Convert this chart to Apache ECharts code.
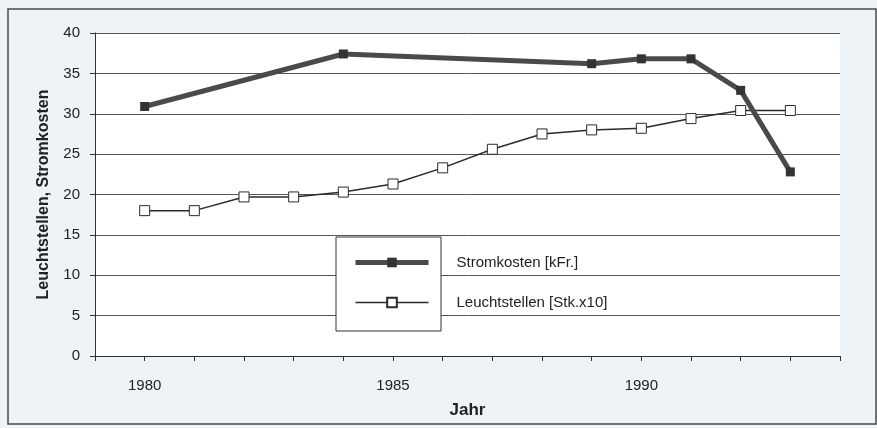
<!DOCTYPE html>
<html>
<head>
<meta charset="utf-8">
<script src="https://cdn.jsdelivr.net/npm/echarts@6/dist/echarts.min.js"></script>
<style>
html,body{margin:0;padding:0;background:#fff;}
#c{width:877px;height:428px;}
</style>
</head>
<body>
<div id="c"></div>
<script>
const years = [1980,1981,1982,1983,1984,1985,1986,1987,1988,1989,1990,1991,1992,1993];
const stromYears = [1980,1984,1989,1990,1991,1992,1993];
const stromkosten = [30.9,37.4,36.2,36.8,36.8,32.9,22.8];
const leuchtstellen = [18.0,18.0,19.7,19.7,20.3,21.3,23.3,25.6,27.5,28.0,28.2,29.4,30.4,30.4];
const xLabels = [1980,1985,1990];
const seriesNames = ['Stromkosten [kFr.]','Leuchtstellen [Stk.x10]'];

const chart = echarts.init(document.getElementById('c'), null, {renderer:'canvas'});
const font = 'Liberation Sans, Arial, Helvetica, sans-serif';
chart.setOption({
  backgroundColor:'#eef3f8',
  animation:false,
  textStyle:{fontFamily:font},
  grid:{left:95,right:37,top:33,bottom:72,show:true,backgroundColor:'#ffffff',borderWidth:0},
  graphic:[
    {type:'rect',shape:{x:8,y:9,width:868,height:415},style:{fill:'none',stroke:'#4a4a4a',lineWidth:1.5},z:100,silent:true},
    {type:'rect',shape:{x:336,y:237,width:105,height:94},style:{fill:'#ffffff',stroke:'#333',lineWidth:1},z:3,silent:true}
  ],
  legend:{
    orient:'vertical',left:348,top:250,itemWidth:73,itemHeight:12,itemGap:25,z:6,
    data:[
      {name:seriesNames[0],lineStyle:{width:5,color:'#4a4a4a'}},
      {name:seriesNames[1],lineStyle:{width:1.5,color:'#2a2a2a'}}
    ],
    textStyle:{fontSize:15,color:'#222',fontFamily:font,padding:[0,0,0,23]}
  },
  xAxis:{
    type:'value',min:1979,max:1994,interval:1,
    name:'Jahr',nameLocation:'middle',nameGap:46,
    nameTextStyle:{fontSize:17,fontWeight:'bold',color:'#222',fontFamily:font},
    axisLine:{lineStyle:{color:'#333',width:1}},
    axisTick:{show:true,length:5,lineStyle:{color:'#333'}},
    axisLabel:{fontSize:15,color:'#222',margin:22,
      formatter:function(v){return xLabels.indexOf(v)>=0?String(v):'';}},
    splitLine:{show:false}
  },
  yAxis:{
    type:'value',min:0,max:40,interval:5,
    name:'Leuchtstellen, Stromkosten',nameLocation:'middle',nameGap:43,
    nameTextStyle:{fontSize:16,fontWeight:'bold',color:'#222',fontFamily:font},
    axisLine:{show:true,lineStyle:{color:'#333',width:1}},
    axisTick:{show:true,length:5,lineStyle:{color:'#333'}},
    axisLabel:{fontSize:15,color:'#222',margin:15},
    splitLine:{show:true,lineStyle:{color:'#555',width:1}}
  },
  series:[
    {name:seriesNames[0],type:'line',data:stromYears.map((y,i)=>[y,stromkosten[i]]),
     symbol:'rect',symbolSize:9,
     lineStyle:{color:'#4a4a4a',width:5},
     itemStyle:{color:'#333333',borderColor:'#333333',borderWidth:0},z:4},
    {name:seriesNames[1],type:'line',data:years.map((y,i)=>[y,leuchtstellen[i]]),
     symbol:'rect',symbolSize:10,
     lineStyle:{color:'#2a2a2a',width:1.5},
     itemStyle:{color:'#ffffff',borderColor:'#2a2a2a',borderWidth:1},z:3}
  ]
});
</script>
</body>
</html>
